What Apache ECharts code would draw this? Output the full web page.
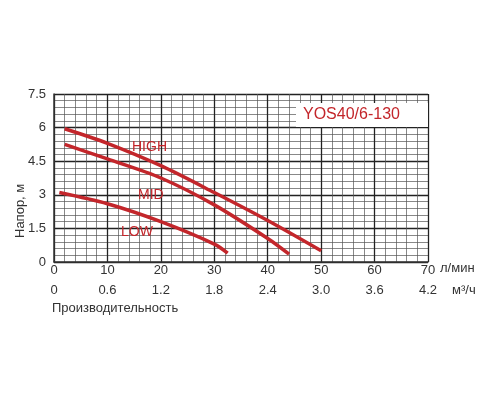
<!DOCTYPE html>
<html>
<head>
<meta charset="UTF-8">
<script src="https://cdn.jsdelivr.net/npm/echarts@6/dist/echarts.min.js"></script>
</head>
<body style="margin:0;background:#fff">
<div id="main" style="width:500px;height:400px"></div>
<script>
var highCurve = [[2,5.95],[10,5.3],[20,4.3],[30,3.1],[40,1.85],[50,0.5]];
var midCurve = [[2,5.25],[10,4.6],[20,3.75],[30,2.55],[40,1.05],[44,0.35]];
var lowCurve = [[1,3.1],[10,2.6],[20,1.8],[30,0.8],[32.5,0.4]];
var flowTicksM3 = ['0','0.6','1.2','1.8','2.4','3.0','3.6','4.2'];

var red = '#c3262b';
var chart = echarts.init(document.getElementById('main'));
function curve(data) {
    return {type:'line', data:data, smooth:0.3, symbol:'none', xAxisIndex:0,
        lineStyle:{color:red, width:3.5}};
}
var tf = 'Arial, Liberation Sans';
function lbl(t, x, y, size, color) {
    return {type:'text', x:x, y:y, z:101, style:{text:t, fill:color || red, font:size + 'px Arial', verticalAlign:'middle'}};
}
chart.setOption({
    animation:false,
    grid:{left:54, right:72, top:94, bottom:138},
    xAxis:[{
        type:'value', min:0, max:70, interval:2,
        axisLine:{lineStyle:{color:'#333', width:1.5}},
        axisTick:{show:false},
        axisLabel:{color:'#333', fontSize:13, fontFamily:tf, margin:2,
            formatter:function(v){return v%10===0 ? v : '';}, showMinLabel:true},
        splitLine:{lineStyle:{color:'#555', width:0.7}}
    },{
        type:'value', min:0, max:70, interval:10, position:'bottom', offset:20,
        axisLine:{show:false}, axisTick:{show:false},
        axisLabel:{color:'#333', fontSize:13, fontFamily:tf, margin:2,
            formatter:function(v){return flowTicksM3[v/10];}},
        splitLine:{show:true, lineStyle:{color:'#222', width:1.3}}
    }],
    yAxis:[{
        type:'value', min:0, max:7.5, interval:0.3,
        axisLine:{show:true, lineStyle:{color:'#333', width:1.5}},
        axisTick:{show:false},
        axisLabel:{color:'#333', fontSize:13, fontFamily:tf, margin:8,
            formatter:function(v){var r=Math.round(v*10)/10; return (Math.round(r*10)%15===0) ? String(r) : '';}},
        splitLine:{lineStyle:{color:'#555', width:0.7}}
    },{
        type:'value', min:0, max:7.5, interval:1.5, position:'left',
        axisLine:{show:false}, axisTick:{show:false}, axisLabel:{show:false},
        splitLine:{show:true, lineStyle:{color:'#222', width:1.3}}
    }],
    series:[curve(highCurve), curve(midCurve), curve(lowCurve),
        {type:'line', data:[], xAxisIndex:1, yAxisIndex:1}],
    graphic:[
        {type:'rect', z:100, shape:{x:296, y:103, width:132, height:24}, style:{fill:'#fff'}},
        lbl('YOS40/6-130', 303, 115, 16),
        lbl('HIGH', 132, 147, 14),
        lbl('MID', 138, 195, 14),
        lbl('LOW', 121, 232, 14),
        lbl('л/мин', 440, 268, 13, '#333'),
        lbl('м³/ч', 452, 290, 13, '#333'),
        lbl('Производительность', 52, 308, 13, '#333'),
        {type:'text', x:14, y:238, z:101, rotation:Math.PI/2, style:{text:'Напор, м', fill:'#333', font:'13px Arial'}}
    ]
});
</script>
</body>
</html>
